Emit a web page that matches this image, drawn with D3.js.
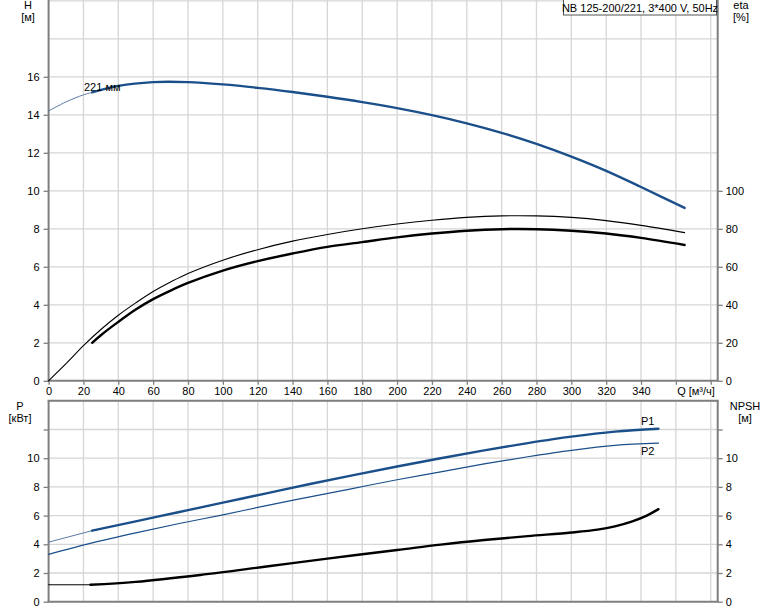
<!DOCTYPE html>
<html><head><meta charset="utf-8">
<script src="https://cdn.jsdelivr.net/npm/d3@7/dist/d3.min.js"></script>
<style>
body{margin:0;background:#fff;}
svg{display:block;font-family:"Liberation Sans",Arial,sans-serif;}
</style></head><body>
<svg id="c" width="774" height="611"></svg>
<script>
// ---- data ----
const title = "NB 125-200/221, 3*400 V, 50Hz";
const qTicks = [0,20,40,60,80,100,120,140,160,180,200,220,240,260,280,300,320,340];
const hTicks = [0,2,4,6,8,10,12,14,16];
const etaTicks = [0,20,40,60,80,100];
const pTicks = [0,2,4,6,8,10];
const npshTicks = [0,2,4,6,8,10];

// head curve (Q m3/h, H m)
const headThin = [[0,14.2],[10,14.68],[20,15.05],[25,15.18]];
const headThick = [[25,15.18],[40,15.52],[60,15.72],[80,15.72],[100,15.6],[120,15.42],[140,15.2],[160,14.95],[180,14.67],[200,14.35],[220,13.98],[240,13.55],[260,13.05],[280,12.47],[300,11.8],[320,11.05],[340,10.2],[365,9.1]];
// efficiency curves (Q, eta %)
const etaPump = [[0,0],[10,9],[20,18.5],[30,27],[40,34.5],[50,41],[60,47],[70,52],[80,56.5],[100,63.5],[120,69],[140,73.5],[160,77],[180,80],[200,82.5],[220,84.5],[240,86],[260,86.8],[280,86.8],[300,86],[320,84.3],[340,81.8],[365,78]];
const etaTotal = [[25,20],[30,24],[40,31],[50,37.5],[60,43],[70,47.5],[80,51.5],[100,58],[120,63],[140,67],[160,70.5],[180,73],[200,75.5],[220,77.5],[240,79],[260,79.8],[280,79.8],[300,79],[320,77.5],[340,75.2],[365,71.5]];
// power curves (Q, kW)
const p1Thin = [[0,4.15],[25,4.95]];
const p1Thick = [[25,4.95],[50,5.6],[75,6.25],[100,6.9],[125,7.55],[150,8.2],[175,8.82],[200,9.42],[225,10.0],[250,10.55],[275,11.05],[300,11.5],[325,11.85],[350,12.05]];
const p2 = [[0,3.3],[25,4.1],[50,4.8],[75,5.45],[100,6.05],[125,6.7],[150,7.3],[175,7.9],[200,8.5],[225,9.05],[250,9.6],[275,10.1],[300,10.55],[325,10.9],[350,11.05]];
// NPSH (Q, m)
const npshThin = [[0,1.18],[24,1.18]];
const npshThick = [[24,1.18],[50,1.38],[87,1.86],[125,2.45],[160,3.0],[200,3.6],[225,3.98],[250,4.3],[275,4.57],[300,4.82],[315,5.02],[325,5.25],[335,5.6],[343,5.98],[350,6.45]];

// ---- layout ----
const svg = d3.select("#c");
const x = d3.scaleLinear().domain([0,384]).range([48.6,717.7]);
const yH = d3.scaleLinear().domain([0,20]).range([380.8,0.8]);
const yEta = d3.scaleLinear().domain([0,200]).range([380.8,0.8]);
const yP = d3.scaleLinear().domain([0,14]).range([601.7,400.8]);

const gridC = "#d6d6d6", axisC = "#7f7f7f", blue = "#1b4f8a";
const fs = 11;

function grid(yScale, vals, y0, y1){
  const g = svg.append("g");
  g.selectAll("line.h").data(vals).join("line")
    .attr("x1",x(0)).attr("x2",x(384)).attr("y1",d=>yScale(d)).attr("y2",d=>yScale(d))
    .attr("stroke",gridC).attr("stroke-width",1.3);
  g.selectAll("line.v").data(d3.range(20,381,20)).join("line")
    .attr("x1",d=>x(d)).attr("x2",d=>x(d)).attr("y1",y0).attr("y2",y1)
    .attr("stroke",gridC).attr("stroke-width",1.3);
}
grid(yH, d3.range(2,21,2), 0, yH(0));
grid(yP, d3.range(2,15,2), yP(14), yP(0));

// axes frames
function frame(y0,y1,top){
  const g = svg.append("g").attr("stroke",axisC).attr("stroke-width",2).attr("fill","none");
  g.append("line").attr("x1",x(0)).attr("x2",x(0)).attr("y1",y0).attr("y2",y1);
  g.append("line").attr("x1",x(384)).attr("x2",x(384)).attr("y1",y0).attr("y2",y1);
  g.append("line").attr("x1",x(0)-1).attr("x2",x(384)+1).attr("y1",y1).attr("y2",y1);
  if(top) g.append("line").attr("x1",x(0)-1).attr("x2",x(384)+1).attr("y1",y0).attr("y2",y0);
}
frame(0, yH(0), false);
frame(yP(14), yP(0), true);

function leftAxis(scale, ticks, extra){
  const ax = d3.axisLeft(scale).tickValues(ticks.concat(extra)).tickSize(5).tickPadding(4)
    .tickFormat(d=> ticks.includes(d)? d : "");
  const g = svg.append("g").attr("transform",`translate(${x(0)},0)`).call(ax);
  styleAxis(g);
}
function rightAxis(scale, ticks, extra){
  const ax = d3.axisRight(scale).tickValues(ticks.concat(extra)).tickSize(5).tickPadding(3)
    .tickFormat(d=> ticks.includes(d)? d : "");
  const g = svg.append("g").attr("transform",`translate(${x(384)},0)`).call(ax);
  styleAxis(g);
}
function styleAxis(g){
  g.select(".domain").remove();
  g.selectAll(".tick line").attr("stroke",axisC).attr("stroke-width",1.3);
  g.selectAll("text").attr("fill","#000").style("font-size",fs+"px").style("font-family","'Liberation Sans',Arial,sans-serif");
}
leftAxis(yH, hTicks, []);
rightAxis(yEta, etaTicks, []);
leftAxis(yP, pTicks, [12]);
rightAxis(yP, npshTicks, [12]);

const xAx = d3.axisBottom(x).tickValues(qTicks.concat([360,380])).tickSize(4).tickPadding(2)
  .tickFormat(d=> qTicks.includes(d)? d : "");
const gx = svg.append("g").attr("transform",`translate(0,${yH(0)})`).call(xAx);
styleAxis(gx);
svg.append("text").attr("x",696).attr("y",395).attr("text-anchor","middle")
  .style("font-size",fs+"px").text("Q [м³/ч]");

function label(t, xx, yy){ svg.append("text").attr("x",xx).attr("y",yy).attr("text-anchor","middle").style("font-size",fs+"px").attr("fill","#000").text(t); }
label("H",28,9); label("[м]",28,21);
label("eta",741,9); label("[%]",741,21);
label("P",20,410); label("[кВт]",20,422);
label("NPSH",745,410); label("[м]",745,422);

const tb = svg.append("g");
tb.append("rect").attr("x",563.5).attr("y",-1).attr("width",153).attr("height",16)
  .attr("fill","#fff").attr("stroke","#555").attr("stroke-width",1);
tb.append("text").attr("x",640).attr("y",11.5).attr("text-anchor","middle").style("font-size",fs+"px").text(title);

function curve(data, yScale, color, w){
  svg.append("path").datum(data)
    .attr("d", d3.line().x(d=>x(d[0])).y(d=>yScale(d[1])).curve(d3.curveCatmullRom))
    .attr("fill","none").attr("stroke",color).attr("stroke-width",w).attr("stroke-linecap","round");
}
curve(headThin, yH, "#5a7aa8", 1);
curve(headThick, yH, blue, 2.4);
curve(etaPump, yEta, "#000", 1.1);
curve(etaTotal, yEta, "#000", 2.4);
curve(p2, yP, blue, 1.2);
curve(p1Thin, yP, "#5a7aa8", 1);
curve(p1Thick, yP, blue, 2.4);
curve(npshThin, yP, "#000", 1);
curve(npshThick, yP, "#000", 2.4);

svg.append("text").attr("x",84).attr("y",91).style("font-size",fs+"px").text("221 мм");
svg.append("text").attr("x",641).attr("y",425).style("font-size",fs+"px").text("P1");
svg.append("text").attr("x",641).attr("y",455).style("font-size",fs+"px").text("P2");
</script>
</body></html>
